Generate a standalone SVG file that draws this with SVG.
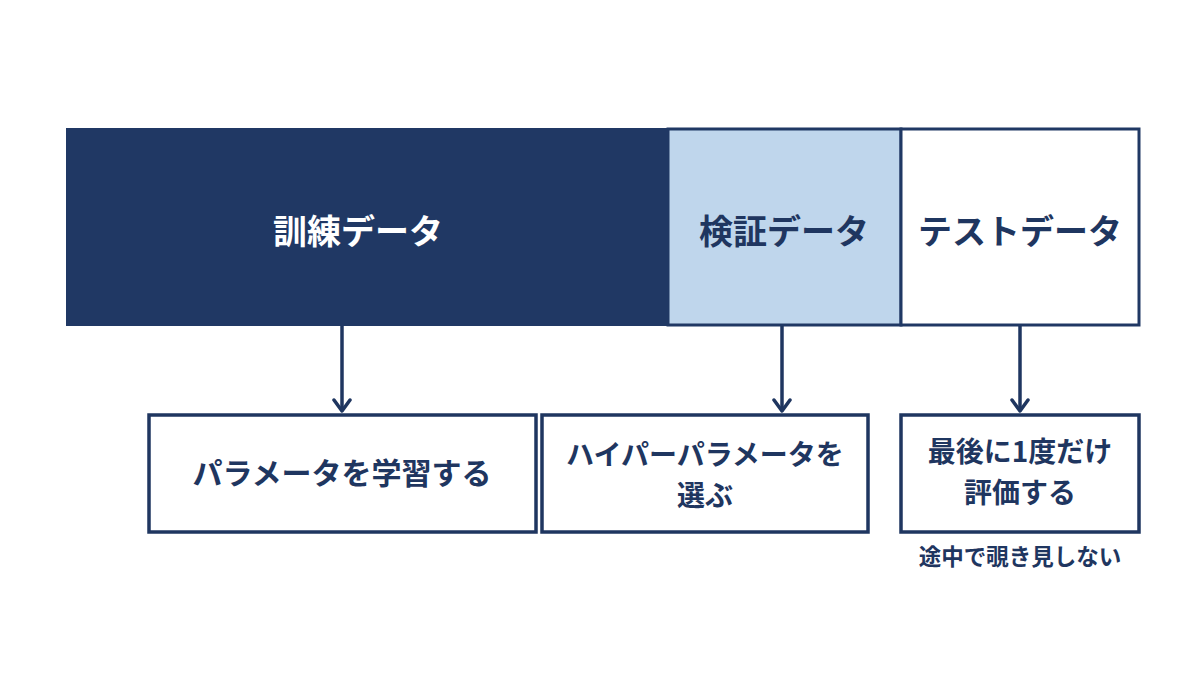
<svg xmlns="http://www.w3.org/2000/svg" width="1200" height="675" viewBox="0 0 1200 675">
<defs>
<style>
text{font-family:"Noto Sans CJK JP","Noto Sans",sans-serif;font-weight:700;text-anchor:middle}
.big{font-size:34px}
.mid{font-size:30px;fill:#1f3660}
.two{font-size:28px;fill:#1f3660}
.small{font-size:22.5px;fill:#1f3660}
.box{fill:#ffffff;stroke:#1f3660;stroke-width:3.5}
.conn{stroke:#1f3660;stroke-width:3.5;fill:none}
</style>
<marker id="ah" viewBox="0 0 16 20" refX="14" refY="10" markerWidth="16" markerHeight="20" markerUnits="userSpaceOnUse" orient="auto">
<path d="M3 2 L14 10 L3 18" fill="none" stroke="#1f3660" stroke-width="3.5" stroke-linecap="round" stroke-linejoin="round"/>
</marker>
</defs>
<rect width="1200" height="675" fill="#ffffff"/>
<g id="train">
<rect x="67" y="129" width="601" height="196" fill="#203864" stroke="#203864" stroke-width="2"/>
<text class="big" x="358" y="244" fill="#ffffff">訓練データ</text>
</g>
<g id="val">
<rect x="668" y="129" width="233" height="196" fill="#bfd6ec" stroke="#203864" stroke-width="3"/>
<text class="big" x="784" y="244" fill="#1f3660">検証データ</text>
</g>
<g id="test">
<rect x="901" y="129" width="238" height="196" fill="#ffffff" stroke="#203864" stroke-width="3"/>
<text class="big" x="1020" y="244" fill="#1f3660">テストデータ</text>
</g>
<g id="connectors">
<line class="conn" x1="342" y1="326" x2="342" y2="411" marker-end="url(#ah)"/>
<line class="conn" x1="782" y1="326" x2="782" y2="411" marker-end="url(#ah)"/>
<line class="conn" x1="1020" y1="326" x2="1020" y2="411" marker-end="url(#ah)"/>
</g>
<g id="learn">
<rect class="box" x="149" y="415" width="387" height="117"/>
<text class="mid" x="342" y="484">パラメータを学習する</text>
</g>
<g id="hyper">
<rect class="box" x="542" y="415" width="326" height="117"/>
<text class="two" x="705" y="465">ハイパーパラメータを</text>
<text class="two" x="705" y="506">選ぶ</text>
</g>
<g id="evaluate">
<rect class="box" x="901" y="415" width="238" height="117"/>
<text class="two" x="1020" y="462">最後に1度だけ</text>
<text class="two" x="1020" y="503">評価する</text>
</g>
<g id="note">
<text class="small" x="1020" y="565">途中で覗き見しない</text>
</g>
</svg>
